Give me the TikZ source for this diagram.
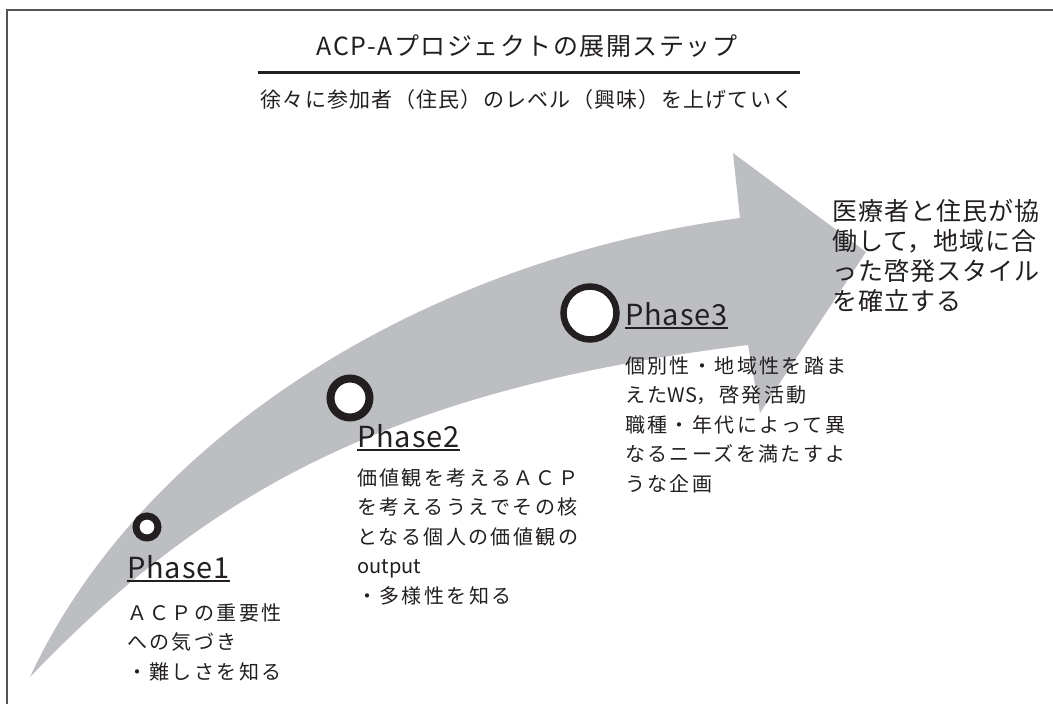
\documentclass[tikz,border=0pt]{standalone}
\usepackage{fontspec}
\setmainfont{Noto Sans CJK JP}
\newfontfamily\titlefont[LetterSpace=6]{Noto Sans CJK JP}
\newfontfamily\bodyfont[LetterSpace=12]{Noto Sans CJK JP}
\newfontfamily\goalfont[LetterSpace=4]{Noto Sans CJK JP}
\newfontfamily\labelfont[LetterSpace=3]{Noto Sans CJK JP}
\newfontfamily\plainfont{Noto Sans CJK JP}
\usetikzlibrary{calc}
\definecolor{arrowgray}{RGB}{188,190,193}
\definecolor{ink}{RGB}{35,31,32}
\definecolor{framegray}{RGB}{85,85,85}
\tikzset{
  ring/.style={circle, draw=ink, fill=white, inner sep=0pt},
  phaselabel/.style={anchor=base west, inner sep=0pt, text=ink,
    font={\labelfont\fontsize{29}{29}\selectfont}},
  bodytext/.style={anchor=north west, inner sep=0pt, align=left, text=ink,
    font={\bodyfont\fontsize{20}{29.5}\selectfont}},
  goaltext/.style={anchor=north west, inner sep=0pt, align=left, text=ink,
    font={\goalfont\fontsize{25}{30}\selectfont}},
  uline/.style={ink, line width=1.8pt}
}
\begin{document}
\begin{tikzpicture}[x=1pt,y=-1pt]
\useasboundingbox (0,0) rectangle (1053,704);
\fill[white] (0,0) rectangle (1053,704);
% frame
\draw[framegray, line width=2pt] (7,704) -- (7,10) -- (1053,10);
% big curved arrow
\fill[arrowgray] (30,677) .. controls (140,440) and (420,260) .. (740,218)
  -- (733,153) -- (866,252) -- (760,413) -- (748,345)
  .. controls (380,390) and (200,500) .. (30,677) -- cycle;
% title
\node[text=ink, font={\titlefont\fontsize{25}{25}\selectfont}] (title) at (527,46) {ACP-Aプロジェクトの展開ステップ};
\coordinate (ruleL) at (258,72);
\coordinate (ruleR) at (800,72);
\draw[ink, line width=3pt] (ruleL) -- (ruleR);
\node[text=ink, font={\titlefont\fontsize{21}{21}\selectfont}] (subtitle) at (527,100) {徐々に参加者（住民）のレベル（興味）を上げていく};
% rings
\node[ring, minimum size=22pt, line width=7pt] (c1) at (147,527) {};
\node[ring, minimum size=39pt, line width=8pt] (c2) at (350,398) {};
\node[ring, minimum size=53pt, line width=6.5pt] (c3) at (590,313) {};
% phase labels
\node[phaselabel] (p1) at (127,578) {Phase1};
\node[phaselabel] (p2) at (357,447) {Phase2};
\node[phaselabel] (p3) at (625,325) {Phase3};
\draw[uline] ([yshift=-3pt]p1.base west) -- ([yshift=-3pt]p1.base east);
\draw[uline] ([yshift=-3pt]p2.base west) -- ([yshift=-3pt]p2.base east);
\draw[uline] ([yshift=-3pt]p3.base west) -- ([yshift=-3pt]p3.base east);
% bodies
\node[bodytext] (b1) at (127,603) {ＡＣＰの重要性\\への気づき\\・難しさを知る};
\node[bodytext] (b2) at (357,468) {価値観を考えるＡＣＰ\\を考えるうえでその核\\となる個人の価値観の\\{\plainfont output}\\・多様性を知る};
\node[bodytext] (b3) at (625,356) {個別性・地域性を踏ま\\えた{\plainfont WS}，啓発活動\\職種・年代によって異\\なるニーズを満たすよ\\うな企画};
\node[goaltext] (goal) at (832,199) {医療者と住民が協\\働して，地域に合\\った啓発スタイル\\を確立する};
\end{tikzpicture}
\end{document}
